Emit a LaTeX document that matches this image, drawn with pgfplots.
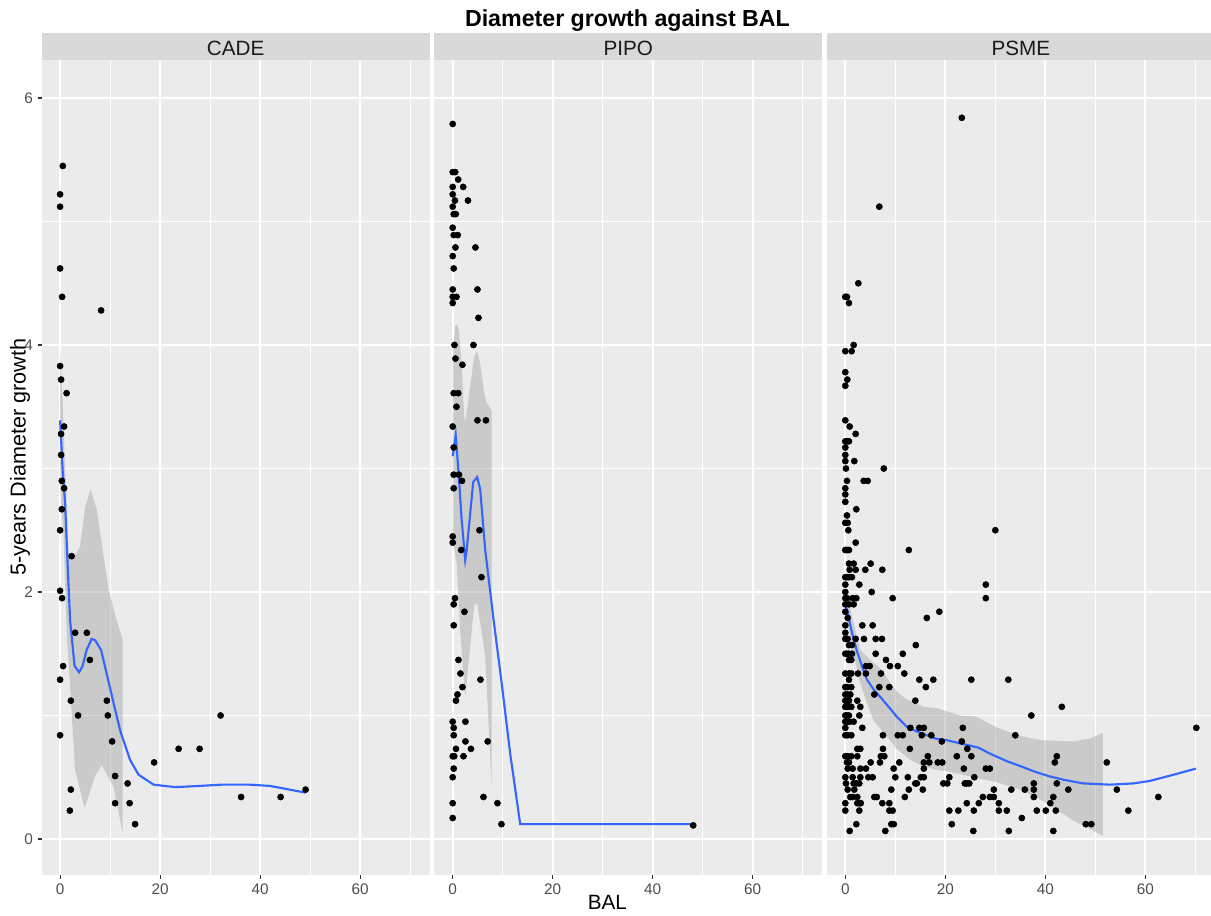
\documentclass[border=0pt]{standalone}
\usepackage{pgfplots}
\pgfplotsset{compat=1.18}
\usepackage{fontspec}
\setmainfont{Liberation Sans}
\definecolor{ggbg}{HTML}{EBEBEB}
\definecolor{ggstrip}{HTML}{D9D9D9}
\definecolor{gg30}{HTML}{4D4D4D}
\definecolor{gg20}{HTML}{333333}
\definecolor{gg10}{HTML}{1A1A1A}
\definecolor{ggblue}{HTML}{3366FF}
\pgfplotsset{
  ggpanel/.style={
    scale only axis, width=291pt, height=611.25pt,
    anchor=south west,
    xmin=-3.68, xmax=73.92, ymin=-0.2915, ymax=6.308,
    axis background/.style={fill=ggbg},
    axis line style={draw=none},
    xtick={0,20,40,60}, ytick={0,2,4,6},
    minor xtick={10,30,50,70}, minor ytick={1,3,5},
    grid=both,
    major grid style={white, line width=1.4pt},
    minor grid style={white, line width=0.7pt},
    tick align=outside, major tick length=3pt, minor tick length=0pt,
    xtick pos=bottom, ytick pos=left,
    tick style={gg20, line width=0.8pt},
    every tick label/.append style={font=\fontsize{11.5}{13}\selectfont, text=gg30},
    /pgf/number format/assume math mode=true,
  },
  pts/.style={only marks, mark=*, mark size=2.3pt, mark options={fill=black, draw=none}},
  rib/.style={draw=none, fill=black!40, fill opacity=0.4},
  smooth line/.style={ggblue, line width=1.6pt, no marks},
}
\begin{document}
\begin{tikzpicture}
\useasboundingbox (0,0) rectangle (908.25pt,687pt);

% ---------------- CADE ----------------
\begin{axis}[ggpanel, at={(31.28pt,30.75pt)}]
\addplot[pts] coordinates {
(0.54,5.45)(0,5.22)(0,5.12)(0,4.62)(0.4,4.39)(8.2,4.28)(0,3.83)(0.2,3.72)(1.3,3.61)(0.8,3.34)(0.2,3.28)(0.2,3.11)
(0.34,2.90)(0.8,2.84)(0.34,2.67)(0,2.50)(2.3,2.29)(0,2.01)(0.4,1.95)(3.0,1.67)(5.35,1.67)(5.95,1.45)(0.6,1.40)(0,1.29)
(2.15,1.12)(9.35,1.12)(3.6,1.00)(9.55,1.00)(0,0.84)(10.4,0.79)(32.1,1.00)(23.7,0.73)(27.9,0.73)(18.8,0.62)(11.0,0.51)
(13.5,0.45)(2.15,0.40)(11.0,0.29)(13.9,0.29)(1.95,0.23)(15.0,0.12)(36.2,0.34)(44.1,0.34)(49.1,0.40)
};
\addplot[rib] coordinates {
(0,3.96)(0.5,3.55)(1.0,3.0)(1.7,2.31)(3.0,2.30)(4.0,2.37)(5.0,2.69)(6.1,2.83)(7.3,2.67)(9.7,2.02)(11.3,1.77)(12.5,1.62)
(12.5,0.05)(10.7,0.42)(8.3,0.60)(7.0,0.51)(4.9,0.25)(3.0,0.56)(2.0,1.23)(1.35,1.64)(0.7,2.45)(0,2.85)
} -- cycle;
\addplot[smooth line] coordinates {
(0,3.39)(0.5,2.99)(1.0,2.72)(1.55,2.18)(2.0,1.77)(2.9,1.40)(3.8,1.35)(4.5,1.40)(5.3,1.53)(6.3,1.62)(7.0,1.61)(8.2,1.53)
(9.3,1.34)(10.7,1.10)(12.0,0.88)(14.0,0.64)(15.7,0.52)(18.7,0.44)(23.0,0.42)(28,0.43)(32.3,0.44)(36.3,0.44)(37.9,0.44)
(41.9,0.43)(44.6,0.41)(49.1,0.375)
};
\end{axis}

% ---------------- PIPO ----------------
\begin{axis}[ggpanel, at={(325.73pt,30.75pt)}, yticklabels={}, ytick style={draw=none}]
\addplot[pts] coordinates {
(0,5.79)(0,5.40)(0.5,5.40)(1.1,5.34)(0,5.28)(2.1,5.28)(0,5.22)(0.45,5.17)(3.05,5.17)(0,5.12)(0.2,5.06)(0.6,5.06)
(0,4.95)(0.2,4.89)(1.0,4.89)(0.55,4.79)(4.55,4.79)(0,4.72)(0.2,4.62)(0,4.45)(4.95,4.45)(0,4.39)(0.75,4.39)(0,4.34)
(5.15,4.22)(0.35,4.0)(4.15,4.0)(0.55,3.89)(1.95,3.84)(0.2,3.61)(1.1,3.61)(0.75,3.50)(0,3.34)(4.95,3.39)(6.65,3.39)
(0.2,3.17)(0.2,2.95)(1.25,2.95)
(1.85,2.90)(0.2,2.84)(0,2.45)(0,2.40)(1.7,2.34)(5.35,2.50)(5.75,2.12)(0.45,1.95)(0.2,1.90)(2.35,1.84)(0.2,1.73)
(1.15,1.45)(1.55,1.34)(5.55,1.29)(1.95,1.23)(0.95,1.17)(0.65,1.12)(0,0.95)(2.55,0.95)(0.2,0.90)(0.2,0.84)(2.55,0.79)
(7.0,0.79)(0.65,0.73)(3.65,0.73)(0,0.67)(0.3,0.67)(2.15,0.67)(0.2,0.57)(0,0.50)(6.15,0.34)(0,0.29)(8.95,0.29)
(0,0.17)(9.75,0.12)(48.1,0.11)
};
\addplot[rib] coordinates {
(0,3.9)(0.5,4.16)(1.0,4.16)(1.3,4.1)(1.8,3.82)(2.3,3.42)(2.5,3.38)(3.1,3.55)(4.3,3.91)(4.9,3.95)(5.5,3.85)(6.3,3.61)
(6.8,3.53)(7.8,3.47)
(7.8,0.42)(6.5,1.48)(4.9,1.91)(4.3,1.89)(2.5,1.15)(1.5,1.69)(0.8,2.23)(0.3,2.35)(0,2.5)
} -- cycle;
\addplot[smooth line] coordinates {
(0,3.1)(0.6,3.27)(1.2,2.95)(1.8,2.58)(2.5,2.26)(2.8,2.34)(4.1,2.89)(4.9,2.93)(5.5,2.83)(6.5,2.34)(8.1,1.80)(9.8,1.26)
(11.5,0.69)(13.5,0.12)(48.1,0.12)
};
\end{axis}

% ---------------- PSME ----------------
\begin{axis}[ggpanel, at={(620.18pt,30.75pt)}, yticklabels={}, ytick style={draw=none}]
\addplot[pts] coordinates {
(23.3,5.84)(6.8,5.12)(2.6,4.50)(0,4.39)(0.33,4.39)(0.73,4.34)(1.67,4.0)(0,3.95)(1.27,3.95)(0,3.78)(0.4,3.72)(0,3.67)
(0,3.39)(0.87,3.34)(2.07,3.28)(0,3.22)(0.33,3.22)(0.73,3.22)(0,3.17)(0,3.11)(0,3.06)(1.8,3.06)(0.13,3.0)(7.7,3.0)
(0.33,2.90)(3.67,2.90)(4.47,2.90)
(0,2.84)(0,2.79)(0,2.73)(2.2,2.67)(0.33,2.62)(0,2.56)(0.47,2.56)(0.6,2.50)(30.0,2.50)(2.07,2.40)
(0,2.34)(0.33,2.34)(0.73,2.34)(12.7,2.34)
(0.73,2.23)(1.67,2.23)(5.07,2.23)
(0.87,2.18)(2.07,2.18)(4.0,2.18)(7.4,2.18)
(0,2.12)(0.33,2.12)(0.73,2.12)(1.33,2.12)
(0,2.06)(2.8,2.06)(28.1,2.06)
(0,2.00)(5.27,2.00)
(0,1.95)(0.33,1.95)(1.47,1.95)(2.2,1.95)(9.47,1.95)(28.1,1.95)
(0,1.90)(0.73,1.90)(1.67,1.90)
(0,1.84)(18.8,1.84)
(0.47,1.79)(16.3,1.79)
(0,1.73)(3.4,1.73)(5.47,1.73)
(0,1.67)
(0,1.62)(0.47,1.62)(2.07,1.62)(3.73,1.62)(6.07,1.62)(7.33,1.62)
(0.73,1.57)(1.33,1.57)(14.1,1.57)
(0,1.50)(0.33,1.50)(0.73,1.50)(1.33,1.50)(6.07,1.50)(11.5,1.50)
(0.73,1.45)(1.2,1.45)(8.13,1.45)
(4.13,1.40)(4.87,1.40)(8.93,1.40)(10.5,1.40)
(0,1.34)(0.73,1.34)(1.2,1.34)(2.53,1.34)(4.13,1.34)(7.13,1.34)(11.8,1.34)
(0.73,1.29)(14.8,1.29)(17.6,1.29)(25.2,1.29)(32.6,1.29)
(0,1.23)(0.33,1.23)(1.2,1.23)(6.8,1.23)(8.8,1.23)(16.1,1.23)
(0,1.17)(0.47,1.17)(1.0,1.17)(5.8,1.17)
(0,1.12)(0.33,1.12)(0.73,1.12)(2.4,1.12)(14.0,1.12)
(0,1.07)(0.47,1.07)(1.2,1.07)(3.0,1.07)(43.3,1.07)
(0,1.00)(0.33,1.00)(0.73,1.00)(2.8,1.00)(37.2,1.00)
(0,0.95)(0.47,0.95)(0.87,0.95)(1.67,0.95)
(0,0.90)(3.4,0.90)(13.0,0.90)(14.8,0.90)(15.7,0.90)(23.5,0.90)(70.2,0.90)
(0,0.84)(0.47,0.84)(1.2,0.84)(7.53,0.84)(10.5,0.84)(11.5,0.84)(15.3,0.84)(17.2,0.84)(34.0,0.84)
(19.3,0.79)(23.3,0.79)
(2.4,0.73)(3.0,0.73)(7.53,0.73)(12.9,0.73)(24.4,0.73)
(0,0.67)(0.47,0.67)(1.2,0.67)(2.4,0.67)(7.1,0.67)(7.8,0.67)(16.5,0.67)(22.3,0.67)(25.2,0.67)(42.3,0.67)
(0.33,0.62)(0.73,0.62)(5.07,0.62)(6.93,0.62)(10.8,0.62)(15.7,0.62)(16.8,0.62)(18.5,0.62)(19.4,0.62)(41.9,0.62)(52.3,0.62)
(0.47,0.57)(1.47,0.57)(3.0,0.57)(4.13,0.57)(9.67,0.57)(15.7,0.57)(23.7,0.57)(28.1,0.57)(28.9,0.57)
(0,0.50)(1.47,0.50)(3.0,0.50)(4.6,0.50)(5.47,0.50)(10,0.50)(12.5,0.50)(15.1,0.50)(15.7,0.50)(20.8,0.50)(25.8,0.50)
(0.13,0.45)(1.67,0.45)(2.2,0.45)(2.8,0.45)(14.0,0.45)(14.3,0.45)(19.6,0.45)(20.4,0.45)(23.9,0.45)(24.3,0.45)(24.8,0.45)(37.7,0.45)(42.3,0.45)
(0.47,0.40)(1.8,0.40)(9.2,0.40)(12.7,0.40)(15.5,0.40)(29.7,0.40)(33.2,0.40)(35.9,0.40)(37.7,0.40)(44.6,0.40)(54.3,0.40)
(1.0,0.34)(1.47,0.34)(2.4,0.34)(5.8,0.34)(6.3,0.34)(11.9,0.34)(27.5,0.34)(28.9,0.34)(29.7,0.34)(37.7,0.34)(41.6,0.34)(62.6,0.34)
(0,0.29)(2.4,0.29)(2.8,0.29)(3.1,0.29)(7.4,0.29)(8.8,0.29)(24.3,0.29)(26.7,0.29)(30.7,0.29)(41.0,0.29)
(0,0.23)(2.8,0.23)(8.8,0.23)(9.47,0.23)(20.8,0.23)(22.6,0.23)(25.7,0.23)(30.7,0.23)(32.3,0.23)(38.3,0.23)(40.1,0.23)(42.1,0.23)(56.6,0.23)
(35.3,0.17)
(2.2,0.12)(9.2,0.12)(9.7,0.12)(21.3,0.12)(48.1,0.12)(49.2,0.12)
(0.87,0.065)(8.0,0.065)(25.6,0.065)(32.7,0.065)(41.6,0.065)
};
\addplot[rib] coordinates {
(0,2.02)(0.5,1.95)(1.33,1.80)(3,1.53)(5,1.45)(7.33,1.37)(9,1.26)(10.67,1.18)(12.3,1.13)(15.7,1.07)(18.3,1.06)(22.9,1.0)
(26.2,0.99)(29.9,0.91)(34.5,0.84)(39,0.80)(45.6,0.79)(49,0.815)(51.5,0.86)
(51.5,0.027)(45.6,0.15)(39,0.32)(35,0.40)(30.3,0.46)(25.6,0.50)(20.9,0.545)(18.3,0.56)(15.7,0.585)(13,0.64)(10.3,0.73)
(7.67,0.86)(5.67,0.96)(4.33,1.10)(3,1.26)(2,1.44)(1,1.64)(0,1.82)
} -- cycle;
\addplot[smooth line] coordinates {
(0,1.91)(0.47,1.83)(1.33,1.67)(2.33,1.52)(3.33,1.40)(4.33,1.29)(5.67,1.21)(7,1.15)(8.67,1.07)(10.3,0.99)(12.3,0.91)
(14.3,0.87)(16.3,0.84)(18.3,0.81)(20.3,0.80)(22.9,0.775)(26.6,0.74)(29,0.69)(32.3,0.63)(35,0.59)(37.9,0.545)(40.6,0.51)
(43.6,0.48)(47.6,0.45)(52.9,0.44)(57.6,0.45)(60.9,0.47)(65.6,0.52)(70.1,0.57)
};
\end{axis}

% strips
\fill[ggstrip] (31.28pt,642pt) rectangle +(291pt,20pt);
\fill[ggstrip] (325.73pt,642pt) rectangle +(291pt,20pt);
\fill[ggstrip] (620.18pt,642pt) rectangle +(291pt,20pt);
\node[anchor=base, text=gg10, font=\fontsize{15.5}{17}\selectfont, inner sep=0pt] at (176.78pt,645.5pt) {CADE};
\node[anchor=base, text=gg10, font=\fontsize{15.5}{17}\selectfont, inner sep=0pt] at (471.23pt,645.5pt) {PIPO};
\node[anchor=base, text=gg10, font=\fontsize{15.5}{17}\selectfont, inner sep=0pt] at (765.68pt,645.5pt) {PSME};
% title and axis titles
\node[anchor=base, font=\fontsize{17.4}{20}\selectfont\bfseries, inner sep=0pt] at (470.6pt,667pt) {Diameter growth against BAL};
\node[rotate=90, anchor=center, font=\fontsize{16.2}{18}\selectfont, inner sep=0pt] at (15pt,344.25pt) {5-years Diameter growth};
\node[anchor=base, font=\fontsize{15.5}{17}\selectfont, inner sep=0pt] at (455.5pt,4.5pt) {BAL};
\end{tikzpicture}
\end{document}
